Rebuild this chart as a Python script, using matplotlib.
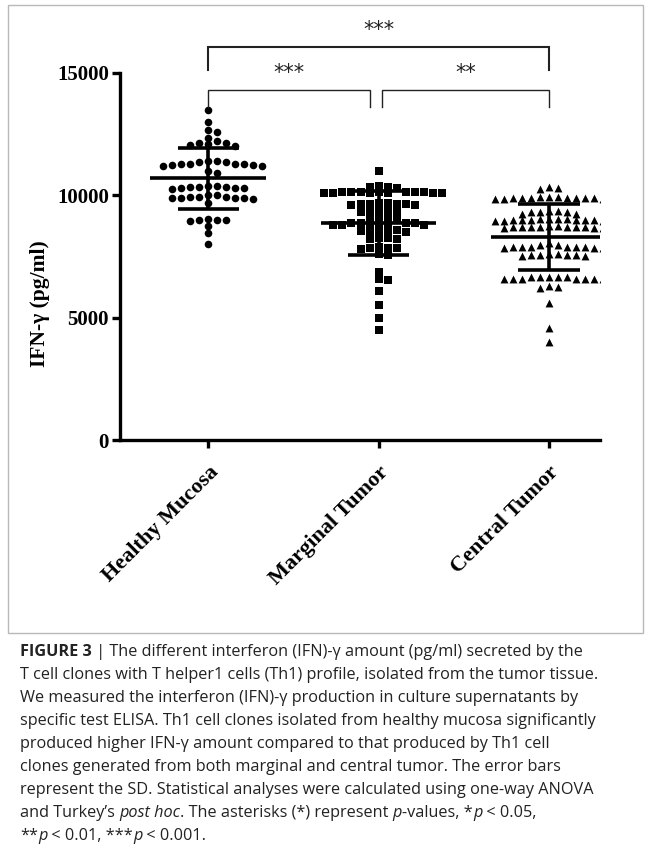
import numpy as np
import matplotlib
matplotlib.use("Agg")
import matplotlib.pyplot as plt
from matplotlib.patches import Rectangle

# data (pg/ml)
groups = ["Healthy Mucosa", "Marginal Tumor", "Central Tumor"]
healthy = [13500, 13000, 12650, 12600, 12350, 12200, 12150, 12150, 12100, 12050, 12000,
           11400, 11350, 11300, 11300, 11250, 11200, 11250, 11300, 11350, 11400, 11300, 11200,
           11000, 10900,
           10400, 10350, 10300, 10350, 10300, 10250, 10350, 10400, 10300,
           10000, 9950, 9900, 9950, 9900, 9850, 9900, 9950, 10000, 9900, 9700,
           9000, 9000, 8950, 9000, 9050, 8750, 8450, 8000]
marginal = [11000,
            10400, 10350, 10300, 10350,
            10150, 10100, 10150, 10100, 10150, 10100, 10150, 10100, 10150, 10100, 10150, 10100, 10150,
            9650, 9600, 9700, 9650, 9600, 9700, 9650, 9650,
            9350, 9300, 9400, 9350, 9300,
            9050, 9000, 9100, 9050,
            8800, 8850, 8800, 8850, 8800, 8850, 8800, 8850, 8800, 8850,
            8550, 8600, 8550, 8500, 8550, 8600,
            8250, 8200, 8250, 8200,
            7900, 7850, 7800, 7850, 7850,
            7600, 7550,
            6850, 6600, 6550, 6100, 5500, 5000, 4500]
central = [10350, 10300, 10250,
           9950, 9900, 9900, 9850, 9950, 9900, 9900, 9850, 9900, 9950, 9900, 9850, 9900,
           9300, 9300, 9250, 9350, 9300, 9250, 9350,
           9050, 9000, 8950, 9000, 9050, 9000, 8950, 9000, 9050, 9000, 8950, 9000, 9050,
           8700, 8700, 8650, 8750, 8700, 8700, 8650, 8750, 8700, 8700, 8650, 8700,
           8050,
           7900, 7900, 7850, 7950, 7900, 7900, 7850, 7950, 7900, 7900, 7850,
           7550, 7550, 7500, 7600, 7550, 7550, 7500, 7600,
           6650, 6600, 6600, 6650, 6600, 6650, 6600, 6650, 6600, 6600, 6650, 6600,
           6300, 6250, 6200,
           5600, 4580, 4000]
series = [healthy, marginal, central]
markers = ["o", "s", "^"]
yticks = [0, 5000, 10000, 15000]
brackets = [(0, 2, "***", 16050, 15120), (0, 0.95, "***", 14300, 13620), (1.02, 2, "**", 14300, 13620)]

caption = [
    [("FIGURE 3", "b"), (" | The different interferon (IFN)-\u03b3 amount (pg/ml) secreted by the", "n")],
    [("T cell clones with T helper1 cells (Th1) profile, isolated from the tumor tissue.", "n")],
    [("We measured the interferon (IFN)-\u03b3 production in culture supernatants by", "n")],
    [("specific test ELISA. Th1 cell clones isolated from healthy mucosa significantly", "n")],
    [("produced higher IFN-\u03b3 amount compared to that produced by Th1 cell", "n")],
    [("clones generated from both marginal and central tumor. The error bars", "n")],
    [("represent the SD. Statistical analyses were calculated using one-way ANOVA", "n")],
    [("and Turkey\u2019s ", "n"), ("post hoc", "i"), (". The asterisks (*) represent ", "n"), ("p", "i"),
     ("-values, *", "n"), ("p", "i"), (" < 0.05,", "n")],
    [("**", "n"), ("p", "i"), (" < 0.01, ***", "n"), ("p", "i"), (" < 0.001.", "n")],
]

W, H = 651, 847
fig = plt.figure(figsize=(W / 100, H / 100), dpi=100)
ax = fig.add_axes([120 / W, 1 - 440 / H, 480 / W, 425 / H])
ax.set_xlim(-0.518, 2.30)
ax.set_ylim(0, 17370)
ypx = 425 / 17370.0


def swarm(vals, step=0.053, size=6.0):
    vals = np.asarray(vals, float)
    order = np.argsort(-vals, kind="stable")
    ks = [0]
    for j in range(1, 20):
        ks += [j, -j]
    placed = []
    xs = np.zeros(len(vals))
    for i in order:
        for k in ks:
            if all(not (kk == k and abs(vals[i] - yy) * ypx < size) for kk, yy in placed):
                placed.append((k, vals[i]))
                xs[i] = k * step
                break
    return xs


for gi, (vals, m) in enumerate(zip(series, markers)):
    vals = np.asarray(vals, float)
    ax.scatter(gi + swarm(vals), vals, marker=m, s=30 if m != "^" else 32,
               color="black", linewidths=0, zorder=2)
    mu, sd = vals.mean(), vals.std(ddof=1)
    ax.hlines(mu, gi - 0.34, gi + 0.34, color="black", lw=2.6, zorder=3)
    ax.hlines([mu - sd, mu + sd], gi - 0.18, gi + 0.18, color="black", lw=2.6, zorder=3)
    ax.vlines(gi, mu - sd, mu + sd, color="black", lw=2.6, zorder=3)

for x0, x1, lab, ytop, ybot in brackets:
    lw = 1.5 if lab == "***" and x1 == 2 else 1.0
    ax.plot([x0, x0, x1, x1], [ybot, ytop, ytop, ybot], color="#222222", lw=lw,
            clip_on=False, solid_joinstyle="miter")
    ax.text((x0 + x1) / 2, ytop + 300, lab, ha="center", va="bottom", fontsize=15,
            family="DejaVu Sans", color="#222222")

for s in ["top", "right"]:
    ax.spines[s].set_visible(False)
ax.spines["left"].set_bounds(0, 15000)
ax.spines["left"].set_linewidth(2.4)
ax.spines["bottom"].set_linewidth(2.4)
ax.set_yticks(yticks)
ax.set_yticklabels([str(v) for v in yticks], fontsize=15, family="Liberation Serif",
                   fontweight="bold")
ax.set_xticks(range(len(groups)))
ax.set_xticklabels(groups, rotation=45, ha="right", va="top", rotation_mode="anchor",
                   fontsize=16, family="Liberation Serif", fontweight="bold")
ax.tick_params(axis="both", width=2.4, length=6, pad=2)
ax.tick_params(axis="x", pad=10)
ax.set_ylabel("IFN-\u03b3 (pg/ml)", fontsize=15.5, family="Liberation Serif", fontweight="bold")
ax.yaxis.set_label_coords(-0.146, 0.32)

fig.patches.append(Rectangle((8 / W, 1 - 633 / H), 635 / W, 628 / H, transform=fig.transFigure,
                             fill=False, edgecolor="#b8b8b8", lw=1.0))

renderer = fig.canvas.get_renderer()
for li, parts in enumerate(caption):
    x = 20
    y = 652 + 23 * li
    for s, st in parts:
        t = fig.text(x / W, 1 - y / H, s, fontsize=11.7, family="Open Sans", color="#222222",
                     fontweight="bold" if st == "b" else "normal",
                     fontstyle="italic" if st == "i" else "normal", va="center", ha="left")
        x += t.get_window_extent(renderer).width

fig.savefig("out.png", dpi=100)
